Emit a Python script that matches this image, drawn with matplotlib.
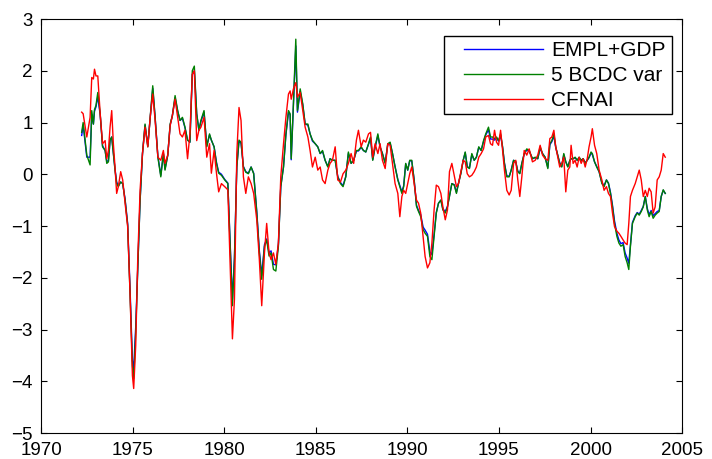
import matplotlib
matplotlib.use("Agg")
import matplotlib.pyplot as plt
from matplotlib.patches import Rectangle

plt.rcParams['font.family'] = ['Liberation Sans', 'DejaVu Sans']

# values (decimal year, index value)
years = [
    1972.22, 1972.30, 1972.50, 1972.68, 1972.77, 1972.86, 1972.92, 1973.00, 1973.10, 1973.23,
    1973.36, 1973.50, 1973.59, 1973.68, 1973.77, 1973.86, 1973.95, 1974.04, 1974.13, 1974.22,
    1974.35, 1974.46, 1974.59, 1974.73, 1974.86, 1974.99, 1975.06, 1975.17, 1975.28, 1975.41,
    1975.54, 1975.68, 1975.83, 1975.96, 1976.10, 1976.23, 1976.38, 1976.54, 1976.68, 1976.77,
    1976.92, 1977.05, 1977.17, 1977.32, 1977.46, 1977.59, 1977.72, 1977.86, 1978.00, 1978.13,
    1978.26, 1978.37, 1978.50, 1978.62, 1978.73, 1978.90, 1979.05, 1979.20, 1979.30, 1979.45,
    1979.58, 1979.70, 1979.85, 1980.03, 1980.20, 1980.32, 1980.45, 1980.56, 1980.69, 1980.81,
    1980.92, 1981.05, 1981.18, 1981.32, 1981.47, 1981.61, 1981.78, 1981.92, 1982.05, 1982.20,
    1982.32, 1982.45, 1982.56, 1982.69, 1982.82, 1982.96, 1983.09, 1983.24, 1983.37, 1983.51,
    1983.60, 1983.66, 1983.78, 1983.91, 1984.00, 1984.15, 1984.29, 1984.42, 1984.57, 1984.69,
    1984.82, 1984.97, 1985.11, 1985.24, 1985.37, 1985.51, 1985.66, 1985.78, 1985.91, 1986.06,
    1986.20, 1986.35, 1986.49, 1986.64, 1986.78, 1986.93, 1987.07, 1987.22, 1987.33, 1987.48,
    1987.60, 1987.73, 1987.88, 1987.99, 1988.11, 1988.24, 1988.39, 1988.51, 1988.64, 1988.79,
    1988.93, 1989.06, 1989.19, 1989.33, 1989.48, 1989.59, 1989.70, 1989.80, 1989.91, 1990.02,
    1990.13, 1990.24, 1990.37, 1990.50, 1990.61, 1990.73, 1990.86, 1990.97, 1991.10, 1991.23,
    1991.34, 1991.46, 1991.58, 1991.70, 1991.83, 1991.94, 1992.07, 1992.19, 1992.30, 1992.43,
    1992.56, 1992.68, 1992.79, 1992.92, 1993.05, 1993.16, 1993.27, 1993.39, 1993.52, 1993.65,
    1993.77, 1993.90, 1994.03, 1994.16, 1994.28, 1994.43, 1994.54, 1994.65, 1994.76, 1994.87,
    1994.98, 1995.09, 1995.20, 1995.30, 1995.43, 1995.56, 1995.67, 1995.80, 1995.92, 1996.03,
    1996.14, 1996.25, 1996.38, 1996.52, 1996.65, 1996.83, 1996.98, 1997.12, 1997.25, 1997.38,
    1997.52, 1997.67, 1997.78, 1997.89, 1998.00, 1998.10, 1998.21, 1998.32, 1998.43, 1998.54,
    1998.65, 1998.76, 1998.87, 1998.94, 1999.05, 1999.16, 1999.27, 1999.38, 1999.49, 1999.60,
    1999.71, 1999.82, 1999.92, 2000.03, 2000.10, 2000.22, 2000.34, 2000.47, 2000.62, 2000.74,
    2000.87, 2000.98, 2001.09, 2001.20, 2001.31, 2001.44, 2001.55, 2001.66, 2001.78, 2001.89,
    2002.00, 2002.09, 2002.18, 2002.29, 2002.44, 2002.55, 2002.66, 2002.77, 2002.88, 2002.99,
    2003.10, 2003.20, 2003.31, 2003.42, 2003.53, 2003.64, 2003.75, 2003.86, 2003.97, 2004.08,
]

bcdc = [
    0.81, 1.00, 0.37, 0.18, 1.23, 0.97, 1.25, 1.33, 1.58, 1.17,
    0.53, 0.46, 0.21, 0.24, 0.66, 0.72, 0.40, 0.08, -0.18, -0.24,
    -0.15, -0.18, -0.50, -0.98, -2.29, -3.70, -3.95, -3.06, -1.84, -0.50,
    0.40, 0.97, 0.53, 1.10, 1.71, 1.10, 0.33, -0.05, 0.40, 0.08,
    0.37, 0.97, 1.13, 1.52, 1.23, 1.04, 1.10, 0.91, 0.66, 0.62,
    2.00, 2.09, 1.17, 0.85, 1.04, 1.23, 0.53, 0.78, 0.66, 0.53,
    0.21, 0.02, -0.02, -0.11, -0.18, -1.33, -2.54, -1.65, 0.14, 0.66,
    0.62, 0.14, 0.04, 0.01, 0.14, 0.01, -0.75, -1.52, -2.03, -1.39,
    -1.27, -1.58, -1.52, -1.84, -1.87, -1.39, -0.24, 0.14, 0.78, 1.23,
    1.17, 0.30, 1.36, 2.61, 1.23, 1.65, 1.36, 0.97, 0.97, 0.78,
    0.66, 0.59, 0.53, 0.40, 0.46, 0.27, 0.14, 0.30, 0.27, 0.27,
    -0.05, -0.18, -0.24, -0.05, 0.43, 0.21, 0.27, 0.46, 0.46, 0.53,
    0.46, 0.43, 0.59, 0.72, 0.27, 0.53, 0.78, 0.53, 0.40, 0.21,
    0.59, 0.62, 0.40, 0.14, -0.11, -0.24, -0.37, -0.24, 0.21, 0.08,
    0.27, 0.27, -0.11, -0.62, -0.72, -0.82, -1.07, -1.14, -1.20, -1.59,
    -1.65, -1.20, -0.75, -0.56, -0.50, -0.69, -0.75, -0.63, -0.43, -0.18,
    -0.21, -0.37, -0.18, 0.01, 0.27, 0.43, 0.14, 0.11, 0.40, 0.27,
    0.33, 0.53, 0.46, 0.65, 0.78, 0.91, 0.72, 0.72, 0.69, 0.72,
    0.65, 0.78, 0.53, 0.21, -0.05, -0.05, 0.08, 0.27, 0.24, 0.05,
    0.01, 0.21, 0.40, 0.49, 0.46, 0.30, 0.33, 0.30, 0.53, 0.40,
    0.33, 0.11, 0.59, 0.65, 0.78, 0.53, 0.37, 0.21, 0.14, 0.40,
    0.24, 0.14, 0.27, 0.30, 0.30, 0.33, 0.27, 0.33, 0.27, 0.30,
    0.21, 0.27, 0.33, 0.43, 0.40, 0.24, 0.14, 0.05, -0.18, -0.24,
    -0.11, -0.18, -0.37, -0.63, -0.95, -1.20, -1.33, -1.39, -1.36, -1.59,
    -1.71, -1.84, -1.39, -0.95, -0.82, -0.75, -0.79, -0.72, -0.63, -0.43,
    -0.69, -0.82, -0.72, -0.85, -0.79, -0.75, -0.72, -0.43, -0.30, -0.37,
]

empl_gdp = [
    0.75, 0.95, 0.33, 0.33, 1.15, 0.97, 1.22, 1.30, 1.50, 1.15,
    0.55, 0.46, 0.25, 0.26, 0.66, 0.72, 0.42, 0.10, -0.15, -0.22,
    -0.15, -0.18, -0.48, -0.95, -2.20, -3.60, -3.75, -2.95, -1.80, -0.50,
    0.40, 0.95, 0.55, 1.08, 1.66, 1.10, 0.35, -0.02, 0.40, 0.10,
    0.37, 0.95, 1.13, 1.48, 1.22, 1.04, 1.08, 0.90, 0.66, 0.62,
    1.93, 2.00, 1.17, 0.85, 1.02, 1.20, 0.55, 0.76, 0.66, 0.53,
    0.23, 0.04, 0.00, -0.10, -0.17, -1.28, -2.42, -1.60, 0.15, 0.64,
    0.60, 0.15, 0.05, 0.02, 0.14, 0.02, -0.72, -1.48, -1.95, -1.36,
    -1.25, -1.52, -1.48, -1.74, -1.75, -1.36, -0.24, 0.15, 0.76, 1.20,
    1.15, 0.28, 1.32, 2.48, 1.20, 1.60, 1.34, 0.97, 0.95, 0.78,
    0.64, 0.59, 0.53, 0.40, 0.44, 0.27, 0.15, 0.30, 0.27, 0.27,
    -0.04, -0.16, -0.22, -0.04, 0.40, 0.21, 0.27, 0.45, 0.45, 0.52,
    0.46, 0.43, 0.58, 0.70, 0.28, 0.52, 0.75, 0.53, 0.40, 0.22,
    0.57, 0.60, 0.40, 0.15, -0.10, -0.22, -0.34, -0.22, 0.20, 0.08,
    0.26, 0.26, -0.10, -0.60, -0.70, -0.78, -1.02, -1.08, -1.16, -1.50,
    -1.55, -1.16, -0.74, -0.56, -0.50, -0.67, -0.72, -0.62, -0.42, -0.18,
    -0.20, -0.35, -0.18, 0.02, 0.27, 0.42, 0.15, 0.12, 0.38, 0.27,
    0.33, 0.52, 0.46, 0.63, 0.76, 0.86, 0.68, 0.68, 0.66, 0.70,
    0.64, 0.75, 0.52, 0.22, -0.03, -0.04, 0.08, 0.27, 0.24, 0.06,
    0.02, 0.21, 0.39, 0.47, 0.45, 0.30, 0.32, 0.30, 0.50, 0.40,
    0.33, 0.13, 0.57, 0.63, 0.74, 0.52, 0.37, 0.22, 0.15, 0.38,
    0.24, 0.15, 0.26, 0.30, 0.30, 0.32, 0.27, 0.32, 0.27, 0.30,
    0.22, 0.27, 0.32, 0.41, 0.38, 0.24, 0.15, 0.05, -0.16, -0.22,
    -0.11, -0.17, -0.35, -0.60, -0.90, -1.14, -1.27, -1.34, -1.32, -1.52,
    -1.62, -1.72, -1.36, -0.93, -0.80, -0.74, -0.77, -0.70, -0.62, -0.43,
    -0.66, -0.78, -0.70, -0.80, -0.76, -0.72, -0.70, -0.43, -0.31, -0.37,
]

cfnai = [
    1.20, 1.17, 0.72, 1.10, 1.87, 1.84, 2.03, 1.90, 1.90, 1.17,
    0.59, 0.65, 0.30, 0.46, 0.91, 1.23, 0.59, 0.14, -0.37, -0.24,
    0.05, -0.11, -0.56, -1.01, -2.29, -3.89, -4.14, -3.31, -1.65, -0.30,
    0.40, 0.91, 0.53, 1.10, 1.55, 1.04, 0.33, 0.27, 0.46, 0.21,
    0.37, 0.94, 1.13, 1.45, 1.10, 0.78, 0.72, 0.85, 0.30, 0.78,
    1.93, 2.00, 0.65, 0.85, 0.91, 1.10, 0.33, 0.59, 0.02, 0.46,
    0.02, -0.34, -0.18, -0.24, -0.30, -1.65, -3.18, -2.42, 0.40, 1.29,
    1.04, -0.05, -0.37, -0.05, -0.18, -0.37, -0.88, -1.65, -2.54, -1.52,
    -0.95, -1.52, -1.65, -1.52, -1.74, -1.33, -0.05, 0.59, 1.10, 1.55,
    1.61, 1.45, 1.65, 1.77, 1.49, 1.58, 1.23, 0.91, 0.72, 0.46,
    0.14, 0.33, 0.08, 0.14, -0.11, -0.18, 0.08, 0.21, 0.27, 0.53,
    -0.11, -0.15, 0.01, 0.08, 0.21, 0.40, 0.21, 0.66, 0.85, 0.53,
    0.66, 0.62, 0.78, 0.81, 0.33, 0.59, 0.40, 0.59, 0.27, 0.11,
    0.59, 0.56, 0.21, -0.18, -0.37, -0.82, -0.43, -0.31, -0.37, -0.18,
    0.01, 0.14, -0.18, -0.50, -0.56, -0.75, -1.20, -1.59, -1.81, -1.71,
    -1.33, -0.69, -0.21, -0.24, -0.37, -0.63, -0.88, -0.69, 0.05, 0.21,
    -0.02, -0.24, -0.18, 0.05, 0.27, 0.24, 0.01, -0.05, -0.02, 0.05,
    0.14, 0.33, 0.40, 0.49, 0.72, 0.75, 0.59, 0.56, 0.85, 0.62,
    0.56, 0.85, 0.46, 0.08, -0.31, -0.40, -0.31, 0.21, 0.27, -0.11,
    -0.43, -0.05, 0.46, 0.37, 0.49, 0.24, 0.27, 0.37, 0.56, 0.37,
    0.30, 0.27, 0.69, 0.72, 0.85, 0.53, 0.33, 0.14, 0.21, 0.33,
    -0.34, 0.08, 0.14, 0.56, 0.21, 0.27, 0.14, 0.33, 0.21, 0.30,
    0.14, 0.30, 0.53, 0.72, 0.88, 0.56, 0.40, 0.08, -0.11, -0.31,
    -0.24, -0.37, -0.43, -0.75, -1.01, -1.10, -1.14, -1.20, -1.27, -1.33,
    -1.36, -0.95, -0.43, -0.31, -0.18, -0.05, 0.08, -0.11, -0.43, -0.31,
    -0.43, -0.27, -0.34, -0.75, -0.63, -0.11, -0.05, 0.08, 0.40, 0.33,
]

xticks = [1970, 1975, 1980, 1985, 1990, 1995, 2000, 2005]
yticks = [-5, -4, -3, -2, -1, 0, 1, 2, 3]

fig = plt.figure(figsize=(7.12, 4.59), dpi=100)
ax = fig.add_axes([0.0576, 0.0566, 0.9004, 0.902])

ax.plot(years, empl_gdp, color=(0, 0, 1), lw=1.0, label='EMPL+GDP')
ax.plot(years, bcdc, color=(0, 0.5, 0), lw=1.0, label='5 BCDC var')
ax.plot(years, cfnai, color=(1, 0, 0), lw=1.0, label='CFNAI')

ax.set_xlim(1970, 2005)
ax.set_ylim(-5, 3)
ax.set_xticks(xticks)
ax.set_yticks(yticks)
ax.tick_params(direction='in', length=4, width=0.8, top=True, right=True,
               labelsize=13.5)
ax.tick_params(axis='x', pad=6.5)
ax.tick_params(axis='y', pad=6)
for s in ax.spines.values():
    s.set_linewidth(0.8)

# legend box drawn separately: MATLAB style leaves more room left of the lines
box = Rectangle((0.6287, 0.7705), 0.3557, 0.188, transform=ax.transAxes,
                facecolor='white', edgecolor='black', lw=1.0, zorder=4)
ax.add_patch(box)
leg = ax.legend(loc='upper right', bbox_to_anchor=(0.984, 0.962), borderaxespad=0,
                fontsize=15, frameon=False, handlelength=3.8, handletextpad=0.4,
                labelspacing=0.3, borderpad=0.3)
leg.set_zorder(5)

fig.savefig("out.png", dpi=100)
